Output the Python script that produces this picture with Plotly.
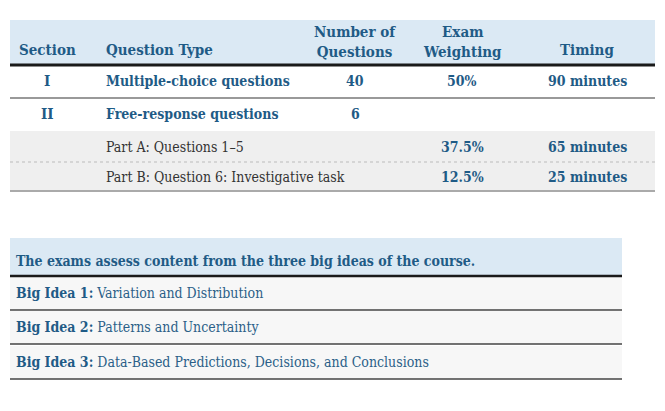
import plotly.graph_objects as go

headers = ["Section", "Question Type", "Number of<br>Questions", "Exam<br>Weighting", "Timing"]
sections = ["I", "II", "", ""]
qtypes = ["Multiple-choice questions", "Free-response questions", "Part A: Questions 1–5", "Part B: Question 6: Investigative task"]
qbold = [True, True, False, False]
nums = ["40", "6", "", ""]
weights = ["50%", "", "37.5%", "12.5%"]
timings = ["90 minutes", "", "65 minutes", "25 minutes"]
idea_title = "The exams assess content from the three big ideas of the course."
idea_labels = ["Big Idea 1:", "Big Idea 2:", "Big Idea 3:"]
idea_names = ["Variation and Distribution", "Patterns and Uncertainty", "Data-Based Predictions, Decisions, and Conclusions"]

BLUE = "#1f5b86"
FONT = "DejaVu Serif Condensed, Liberation Serif, serif"
fig = go.Figure()
shapes = []
ann = []

def rect(x0, y0, x1, y1, color):
    shapes.append(dict(type="rect", x0=x0, x1=x1, y0=y0, y1=y1, fillcolor=color, line_width=0, layer="below"))

def line(x0, x1, y, color, w, dash="solid"):
    shapes.append(dict(type="line", x0=x0, x1=x1, y0=y, y1=y, line=dict(color=color, width=w, dash=dash)))

def text(x, y, s, size=14, anchor="center", bold=True, color=BLUE):
    ann.append(dict(x=x, y=y, text=(f"<b>{s}</b>" if bold else s), showarrow=False, xanchor=anchor, yanchor="middle",
                    font=dict(family=FONT, size=size, color=color), align="center"))

# Top table
rect(10, 20, 655, 64, "#dbe9f4")
line(10, 655, 65, "#1a1a1a", 3)
hx = [47, 104, 355, 462, 587]
ha = ["center", "left", "center", "center", "center"]
for i, h in enumerate(headers):
    text(hx[i], 50 if "<br>" not in h else 42, h, size=15, anchor=ha[i])
rows_y = [81, 114, 147, 177]
rect(10, 131, 655, 191, "#efefef")
line(10, 655, 98, "#999999", 2)
line(10, 655, 162, "#bbbbbb", 1, "dot")
line(10, 655, 191, "#aaaaaa", 2)
for i, y in enumerate(rows_y):
    if sections[i]:
        text(47, y, sections[i], size=15)
    text(104, y, qtypes[i], anchor="left", bold=qbold[i],
         color=BLUE if qbold[i] else "#333333")
    if nums[i]:
        text(355, y, nums[i])
    if weights[i]:
        text(462, y, weights[i])
    if timings[i]:
        text(587, y, timings[i])

# Bottom table
rect(10, 238, 622, 275, "#dbe9f4")
line(10, 622, 276, "#1a1a1a", 2.5)
text(14, 261, idea_title, anchor="left")
iy = [293, 327, 362]
for i, y in enumerate(iy):
    rect(10, y - 16, 622, y + 17, "#f7f7f7")
    line(10, 622, y + 17, "#444444", 1.5)
    ann.append(dict(x=14, y=y, xanchor="left", yanchor="middle", showarrow=False,
                    text=f"<b>{idea_labels[i]}</b> <span style='color:#2b5f88'>{idea_names[i]}</span>",
                    font=dict(family=FONT, size=14, color=BLUE)))

fig.update_layout(width=665, height=411, margin=dict(l=0, r=0, t=0, b=0),
                  paper_bgcolor="white", plot_bgcolor="white", shapes=shapes, annotations=ann,
                  xaxis=dict(range=[8, 673], visible=False, fixedrange=True),
                  yaxis=dict(range=[419, 8], visible=False, fixedrange=True), showlegend=False)
fig.write_html("out.html")
